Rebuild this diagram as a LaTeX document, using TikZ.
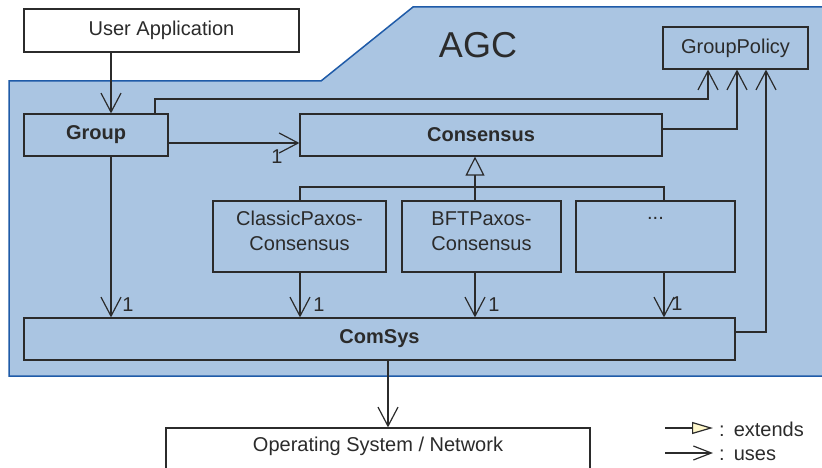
\documentclass[tikz,border=0pt]{standalone}
\usepackage{fontspec}
\setmainfont{Liberation Sans}
\usetikzlibrary{arrows.meta,calc}
\definecolor{agcfill}{HTML}{AAC5E2}
\definecolor{agcline}{HTML}{1F5BA8}
\definecolor{ink}{HTML}{2B2B2B}
\definecolor{extfill}{HTML}{FFF8CC}
\begin{document}
\begin{tikzpicture}[x=1pt,y=-1pt,
  box/.style={draw=ink, line width=1.2pt, rectangle, inner sep=0pt, fill=agcfill},
  txt/.style={font=\fontsize{20}{25}\selectfont, text=ink, align=center, inner sep=0pt},
  btxt/.style={txt, font=\fontsize{20}{25}\selectfont\bfseries},
  conn/.style={draw=ink, line width=1.2pt},
  uses/.style={conn, -{Straight Barb[length=19pt,width=20pt]}},
  extends/.style={conn, -{Triangle[open,length=19pt,width=19pt]}},
  legext/.style={conn, -{Triangle[length=21pt,width=12pt,fill=extfill]}},
  leguses/.style={conn, -{Straight Barb[length=18pt,width=14pt]}}]
\useasboundingbox (0,0) rectangle (822,468);
\clip (0,0) rectangle (822,468);
% AGC region
\path[fill=agcfill, draw=agcline, line width=1.5pt]
  (9,81) -- (321,81) -- (413,7) -- (830,7) -- (830,376) -- (9,376) -- cycle;
\node[txt, font=\fontsize{36}{40}\selectfont] (agc) at (478,45) {AGC};
% boxes
\node[box, fill=white, minimum width=275pt, minimum height=43pt, txt] (ua) at (161.5,30.5) {User Application};
\node[box, minimum width=144pt, minimum height=42pt, btxt] (group) at (96,135) {Group};
\node[box, minimum width=362pt, minimum height=42pt, btxt] (cons) at (481,135) {Consensus};
\node[box, minimum width=145pt, minimum height=42pt, txt] (gp) at (735.5,48) {GroupPolicy};
\node[box, minimum width=173pt, minimum height=71pt] (classic) at (299.5,236.5) {};
\node[txt] (classict) at (299.5,231) {ClassicPaxos-\\Consensus};
\node[box, minimum width=159pt, minimum height=71pt] (bft) at (481.5,236.5) {};
\node[txt] (bftt) at (481.5,231) {BFTPaxos-\\Consensus};
\node[box, minimum width=159pt, minimum height=71pt] (dots) at (655.5,236.5) {};
\node[txt] (dotst) at (655.5,218.5) {...};
\node[box, minimum width=711pt, minimum height=42pt, btxt] (comsys) at (379.5,339) {ComSys};
\node[box, fill=white, minimum width=424pt, minimum height=46pt] (os) at (378,451) {};
\node[txt] (ost) at (378,446) {Operating System / Network};
% connector x/y helpers
\coordinate (xa) at (111,0);
\coordinate (xb) at (155,99);
\coordinate (xc) at (708,0);
\coordinate (xd) at (737,0);
\coordinate (xe) at (766,0);
\coordinate (yc) at (0,143);
\coordinate (yd) at (0,129);
\coordinate (ye) at (0,332);
\coordinate (xcl) at (300,0);
\coordinate (xbf) at (475,0);
\coordinate (xdt) at (664,0);
\coordinate (ybar) at (0,187);
\coordinate (xos) at (388,0);
% uses connectors
\draw[uses] (ua.south -| xa) -- (group.north -| xa);
\draw[uses] (group.north -| xb) -- (xb) -| (gp.south -| xc);
\draw[uses] (cons.east |- yd) -| (gp.south -| xd);
\draw[uses] (comsys.east |- ye) -| (gp.south -| xe);
\draw[uses] (group.east |- yc) -- (cons.west |- yc);
\node[txt] (m0) at (277,157) {1};
\draw[uses] (group.south -| xa) -- (comsys.north -| xa);
\draw[uses] (classic.south -| xcl) -- (comsys.north -| xcl);
\draw[uses] (bft.south -| xbf) -- (comsys.north -| xbf);
\draw[uses] (dots.south -| xdt) -- (comsys.north -| xdt);
\node[txt] (m1) at (128,305) {1};
\node[txt] (m2) at (319,305) {1};
\node[txt] (m3) at (494,305) {1};
\node[txt] (m4) at (677,304) {1};
\draw[uses] (comsys.south -| xos) -- (os.north -| xos);
% extends tree
\draw[conn] (classic.north -| xcl) -- (xcl |- ybar) -- (xdt |- ybar) -- (dots.north -| xdt);
\draw[extends] (bft.north -| xbf) -- (cons.south -| xbf);
% legend
\coordinate (l1) at (665,428);
\coordinate (l2) at (713,428);
\coordinate (l3) at (665,453);
\coordinate (l4) at (713,453);
\draw[legext] (l1) -- (l2);
\draw[leguses] (l3) -- (l4);
\node[txt, anchor=base west] (lt1) at (719,436) {:\hspace{9pt}extends};
\node[txt, anchor=base west] (lt2) at (719,460) {:\hspace{9pt}uses};
\end{tikzpicture}
\end{document}
